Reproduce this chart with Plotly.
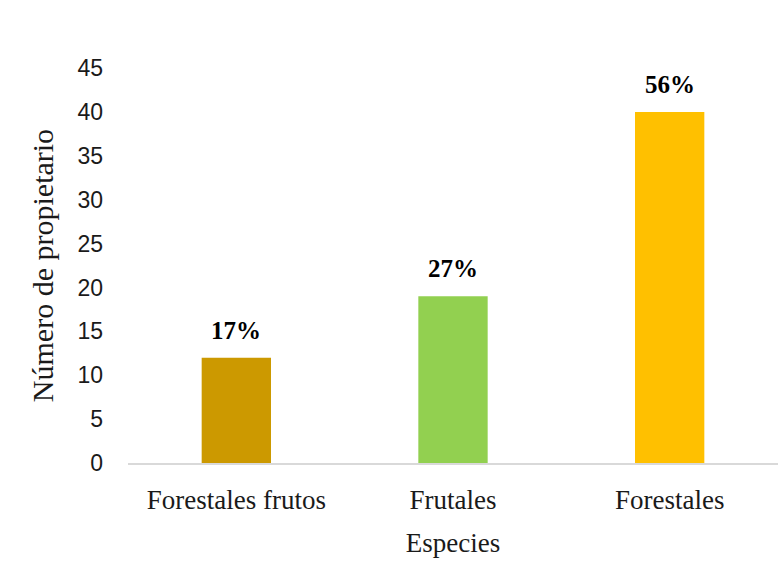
import plotly.graph_objects as go

categories = ["Forestales frutos", "Frutales", "Forestales"]
values = [12, 19, 40]
pct_labels = ["17%", "27%", "56%"]
colors = ["#CC9900", "#92D050", "#FFC000"]
y_ticks = [0, 5, 10, 15, 20, 25, 30, 35, 40, 45]

fig = go.Figure()
fig.add_trace(go.Bar(x=categories, y=values, marker=dict(color=colors, line=dict(width=0)),
                     showlegend=False, hoverinfo="skip"))

for c, v, t in zip(categories, values, pct_labels):
    fig.add_annotation(x=c, y=v, text="<b>%s</b>" % t, showarrow=False,
                       yanchor="bottom", yshift=12,
                       font=dict(family="Liberation Serif", size=25, color="#000000"))

fig.update_layout(
    width=783, height=584,
    margin=dict(l=128, r=5, t=68, b=121),
    paper_bgcolor="white", plot_bgcolor="white",
    bargap=0.68,
    xaxis=dict(
        showline=True, linecolor="#D9D9D9", linewidth=2,
        showgrid=False, ticks="", ticklabelstandoff=12,
        tickfont=dict(family="Liberation Serif", size=27, color="#1a1a1a"),
        title=dict(text="Especies", standoff=19,
                   font=dict(family="Liberation Serif", size=27, color="#1a1a1a")),
    ),
    yaxis=dict(
        range=[0, 45], tickvals=y_ticks, showgrid=False, showline=False,
        zeroline=False, ticks="", ticklabelstandoff=24,
        tickfont=dict(family="Liberation Sans", size=23, color="#1a1a1a"),
        title=dict(text="Número de propietario", standoff=14,
                   font=dict(family="Liberation Serif", size=30, color="#1a1a1a")),
    ),
)

fig.write_html("out.html")
